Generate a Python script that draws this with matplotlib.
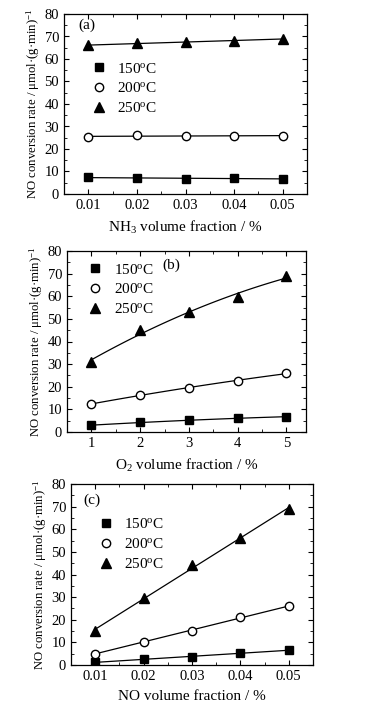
import numpy as np
import matplotlib
matplotlib.use("Agg")
import matplotlib.pyplot as plt
from matplotlib.ticker import MultipleLocator, FormatStrFormatter

plt.rcParams['font.family'] = ['Liberation Serif', 'DejaVu Serif']
plt.rcParams['mathtext.fontset'] = 'custom'
plt.rcParams['mathtext.rm'] = 'Liberation Serif'
plt.rcParams['mathtext.it'] = 'Liberation Serif:italic'

labels = ["150$^{\\rm o}$C", "200$^{\\rm o}$C", "250$^{\\rm o}$C"]

# Panel (a): NH3 volume fraction
x_a = [0.01, 0.02, 0.03, 0.04, 0.05]
a_150 = [7.5, 6.9, 6.8, 7.1, 6.7]
a_200 = [25.3, 26.1, 25.9, 25.7, 25.9]
a_250 = [66.0, 67.0, 67.7, 68.2, 68.8]

# Panel (b): O2 volume fraction
x_b = [1, 2, 3, 4, 5]
b_150 = [3.0, 4.2, 5.2, 6.0, 6.8]
b_200 = [12.3, 16.4, 19.6, 22.7, 25.9]
b_250 = [31.0, 45.0, 53.0, 59.5, 69.0]

# Panel (c): NO volume fraction
x_c = [0.01, 0.02, 0.03, 0.04, 0.05]
c_150 = [1.2, 2.6, 3.6, 5.2, 6.6]
c_200 = [5.0, 10.3, 15.0, 21.2, 26.0]
c_250 = [15.0, 29.5, 44.0, 56.0, 69.0]

W, H = 370, 705
fig = plt.figure(figsize=(W / 100, H / 100), dpi=100)

def rect(l, t, r, b):
    return [l / W, 1 - b / H, (r - l) / W, (b - t) / H]

ylabel = "NO conversion rate / μmol·(g·min)$^{-1}$"
styles = [dict(marker='s', mfc='black', mec='black', ms=6),
          dict(marker='o', mfc='white', mec='black', ms=6, mew=1.0),
          dict(marker='^', mfc='black', mec='black', ms=7)]

def panel(r, x, series, xlim, xmaj, xmin, xlabel, tag, tagpos, legpos, deg, xfmt=None):
    ax = fig.add_axes(rect(*r))
    for ys, st, lab in zip(series, styles, labels):
        xs = np.array(x, dtype=float)
        coef = np.polyfit(xs, ys, deg)
        xf = np.linspace(xs[0], xs[-1], 100)
        ax.plot(xf, np.polyval(coef, xf), color='black', lw=0.9)
        ax.plot(x, ys, ls='none', label=lab, **st)
    ax.set_xlim(*xlim)
    ax.set_ylim(0, 80)
    ax.xaxis.set_major_locator(MultipleLocator(xmaj))
    ax.xaxis.set_minor_locator(MultipleLocator(xmin))
    ax.yaxis.set_major_locator(MultipleLocator(10))
    ax.yaxis.set_minor_locator(MultipleLocator(5))
    if xfmt:
        ax.xaxis.set_major_formatter(xfmt)
    ax.tick_params(which='both', direction='in', top=True, right=True, labelsize=10.5)
    ax.tick_params(which='major', length=3.5, width=0.8)
    ax.tick_params(which='minor', length=2, width=0.6)
    for s in ax.spines.values():
        s.set_linewidth(0.9)
    ax.set_xlabel(xlabel, fontsize=11, labelpad=5)
    ax.set_ylabel(ylabel, fontsize=9.2, labelpad=2)
    ax.text(tagpos[0], tagpos[1], tag, transform=ax.transAxes, fontsize=11, ha='left', va='center')
    ax.legend(loc='upper left', bbox_to_anchor=legpos, frameon=False, fontsize=11,
              handletextpad=0.6, labelspacing=0.38, handlelength=1.2, borderaxespad=0)
    return ax

f2 = FormatStrFormatter('%.2f')

panel((64, 14, 307, 194), x_a, [a_150, a_200, a_250], (0.005, 0.055), 0.01, 0.005,
      "NH$_3$ volume fraction / %", "(a)", (0.06, 0.94), (0.08, 0.77), 1, f2)
panel((67, 251, 306, 432), x_b, [b_150, b_200, b_250], (0.5, 5.4), 1, 0.5,
      "O$_2$ volume fraction / %", "(b)", (0.4, 0.92), (0.055, 0.97), 2)
panel((71, 484, 313, 665), x_c, [c_150, c_200, c_250], (0.005, 0.055), 0.01, 0.005,
      "NO volume fraction / %", "(c)", (0.05, 0.91), (0.08, 0.85), 1, f2)

fig.savefig("out.png", dpi=100)
